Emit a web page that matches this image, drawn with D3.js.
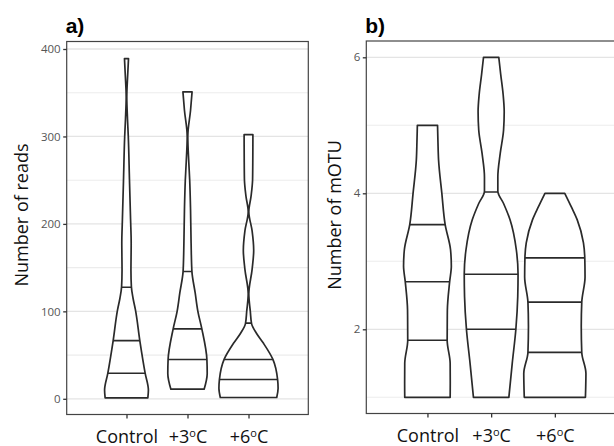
<!DOCTYPE html>
<html>
<head>
<meta charset="utf-8">
<script src="https://cdn.jsdelivr.net/npm/d3@7"></script>
<style>
  body { margin: 0; background: #fff; }
  svg { display: block; }
  .tick text { font-family: "Open Sans", sans-serif; }
</style>
</head>
<body>
<svg id="chart"></svg>
<script>
const width = 614;
const height = 446;

// categories (° is drawn as a raised small "o")
const categories = ['Control', '+3°C', '+6°C'];

// a) number of reads: [value, relative density] per treatment
const readsDensity = [
  [[389, 0.066], [370, 0.039], [345, 0.01], [320, 0.033], [300, 0.059], [250, 0.098],
   [205, 0.134], [178, 0.154], [147, 0.146], [128, 0.161], [115, 0.215], [102, 0.292],
   [66, 0.439], [29, 0.613], [10, 0.718], [1, 0.70]],
  [[351, 0.15], [330, 0.10], [300, 0.01], [270, 0.043], [250, 0.072], [216, 0.10],
   [178, 0.118], [146, 0.144], [121, 0.252], [100, 0.34], [80, 0.47], [45, 0.636],
   [29, 0.646], [11, 0.545]],
  [[302, 0.144], [275, 0.141], [251, 0.134], [232, 0.085], [214, 0.01], [192, 0.118],
   [170, 0.17], [148, 0.118], [120, 0.01], [100, 0.059], [86, 0.10], [75, 0.26],
   [64, 0.48], [45, 0.80], [22, 0.954], [12, 0.97], [1.5, 0.925]]
];
const readsQuantiles = [[29.3, 66.5, 127.6], [45, 80, 145.5], [22, 45, 86.5]];
const readsTicks = [0, 100, 200, 300, 400];
const readsMinor = [50, 150, 250, 350];

// b) number of mOTU
const motuDensity = [
  [[5, 0.317], [4.75, 0.33], [4.49, 0.349], [4, 0.452], [3.54, 0.556], [3.17, 0.725],
   [2.93, 0.75], [2.70, 0.697], [2.28, 0.625], [1.84, 0.619], [1.5, 0.713], [1.2, 0.716],
   [1, 0.713]],
  [[6, 0.24], [5.75, 0.30], [5.45, 0.377], [5.2, 0.41], [4.93, 0.39], [4.59, 0.286],
   [4.24, 0.21], [4.03, 0.21], [3.85, 0.39], [3.61, 0.593], [3.17, 0.79], [2.81, 0.845],
   [2.48, 0.835], [2.0, 0.776], [1.5, 0.662], [1, 0.556]],
  [[4, 0.311], [3.8, 0.518], [3.61, 0.703], [3.27, 0.898], [3.06, 0.939], [2.77, 0.948],
   [2.40, 0.845], [2.04, 0.829], [1.66, 0.845], [1.35, 0.976], [1, 0.96]]
];
const motuQuantiles = [[1.84, 2.70, 3.54], [2.0, 2.81, 4.02], [1.66, 2.40, 3.05]];
const motuTicks = [2, 4, 6];
const motuMinor = [1, 3, 5];

const svg = d3.select('#chart')
    .attr('width', width)
    .attr('height', height);

const panels = [
  {
    id: 'a', title: 'a)', yTitle: 'Number of reads',
    left: 66.7, right: 308.3, top: 41.5, bottom: 414.5,
    yDomain: [0, 400], yRange: [398.8, 49],
    padding: 0.98, titleX: 28,
    density: readsDensity, quantiles: readsQuantiles,
    ticks: readsTicks, minor: readsMinor
  },
  {
    id: 'b', title: 'b)', yTitle: 'Number of mOTU',
    left: 366.3, right: 616, top: 41, bottom: 413.5,
    yDomain: [1, 6], yRange: [397.3, 57.3],
    padding: 0.96, titleX: 341,
    density: motuDensity, quantiles: motuQuantiles,
    ticks: motuTicks, minor: motuMinor
  }
];

panels.forEach(p => drawPanel(p));

function drawPanel(p) {
  const g = svg.append('g');

  const x = d3.scalePoint()
      .domain(categories)
      .range([p.left, p.right])
      .padding(p.padding);

  const y = d3.scaleLinear()
      .domain(p.yDomain)
      .range(p.yRange);

  // max density maps to half a category step
  const w = d3.scaleLinear()
      .domain([0, 1])
      .range([0, x.step() / 2]);

  // grid
  g.selectAll('.minor')
    .data(p.minor)
    .enter().append('line')
    .attr('x1', p.left).attr('x2', p.right)
    .attr('y1', d => y(d)).attr('y2', d => y(d))
    .attr('stroke', '#ececec')
    .attr('stroke-width', 1.1);

  g.selectAll('.major')
    .data(p.ticks)
    .enter().append('line')
    .attr('x1', p.left).attr('x2', p.right)
    .attr('y1', d => y(d)).attr('y2', d => y(d))
    .attr('stroke', '#e4e4e4')
    .attr('stroke-width', 1.3);

  // violins
  p.density.forEach((dens, i) => {
    const cx = x(categories[i]);
    const area = d3.area()
        .y(d => y(d[0]))
        .x0(d => cx - w(d[1]))
        .x1(d => cx + w(d[1]))
        .curve(d3.curveMonotoneY);
    const path = area(dens);
    const clipId = `clip-${p.id}-${i}`;

    svg.append('clipPath')
        .attr('id', clipId)
      .append('path')
        .attr('d', path);

    g.append('path')
        .attr('d', path)
        .attr('fill', '#fff');

    g.selectAll(`.q-${p.id}-${i}`)
      .data(p.quantiles[i])
      .enter().append('line')
      .attr('clip-path', `url(#${clipId})`)
      .attr('x1', cx - x.step() / 2).attr('x2', cx + x.step() / 2)
      .attr('y1', d => y(d)).attr('y2', d => y(d))
      .attr('stroke', '#2a2a2a')
      .attr('stroke-width', 1.6);

    g.append('path')
        .attr('d', path)
        .attr('fill', 'none')
        .attr('stroke', '#2a2a2a')
        .attr('stroke-width', 1.7)
        .attr('stroke-linejoin', 'round');
  });

  // frame
  g.append('rect')
      .attr('x', p.left).attr('y', p.top)
      .attr('width', p.right - p.left)
      .attr('height', p.bottom - p.top)
      .attr('fill', 'none')
      .attr('stroke', '#444')
      .attr('stroke-width', 1.2);

  // y axis
  const yAxis = g.append('g')
      .attr('transform', `translate(${p.left},0)`)
      .call(d3.axisLeft(y).tickValues(p.ticks).tickFormat(d3.format('d'))
        .tickSize(3.5).tickPadding(2.5));
  yAxis.select('.domain').remove();
  yAxis.selectAll('line').attr('stroke', '#333').attr('stroke-width', 1.3);
  yAxis.selectAll('text')
      .attr('fill', '#555')
      .style('font-size', '11.5px');

  // x axis
  const xAxis = g.append('g')
      .attr('transform', `translate(0,${p.bottom})`)
      .call(d3.axisBottom(x).tickSize(4).tickPadding(2));
  xAxis.select('.domain').remove();
  xAxis.selectAll('line').attr('stroke', '#333').attr('stroke-width', 1.3);
  xAxis.selectAll('text').each(function(d) {
    const t = d3.select(this)
        .text(null)
        .attr('fill', '#111')
        .attr('y', 28)
        .attr('dy', null)
        .style('font-size', '18px');
    const parts = d.split('°');
    t.append('tspan').text(parts[0]);
    if (parts.length > 1) {
      t.append('tspan').attr('dy', -6).style('font-size', '11px').text('o');
      t.append('tspan').attr('dy', 6).text(parts[1]);
    }
  });

  // y title
  g.append('text')
      .attr('transform', `translate(${p.titleX},215) rotate(-90)`)
      .attr('text-anchor', 'middle')
      .attr('fill', '#111')
      .style('font-family', '"Open Sans", sans-serif')
      .style('font-size', '18px')
      .text(p.yTitle);

  // panel tag
  g.append('text')
      .attr('x', p.left - 1)
      .attr('y', 33)
      .attr('fill', '#000')
      .style('font-family', '"Liberation Sans", Arial, sans-serif')
      .style('font-weight', 'bold')
      .style('font-size', '21px')
      .text(p.title);
}
</script>
</body>
</html>
